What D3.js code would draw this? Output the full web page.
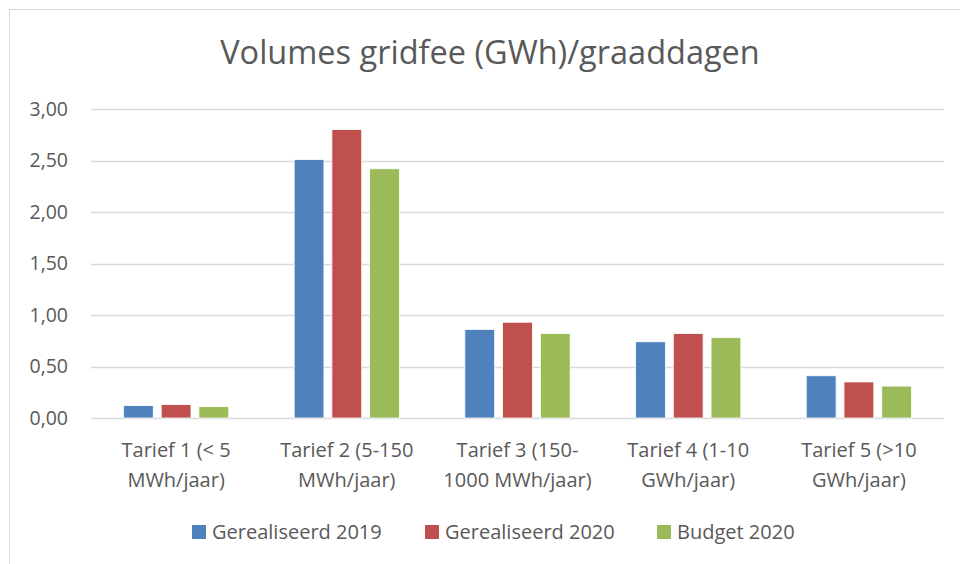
<!DOCTYPE html>
<html>
<head>
<meta charset="utf-8">
<script src="https://cdn.jsdelivr.net/npm/d3@7"></script>
<style>
  body { margin: 0; background: #fff; }
  text { font-family: "Open Sans", sans-serif; fill: #595959; }
</style>
</head>
<body>
<div id="chart"></div>
<script>
// chart data
const categories = [
  ["Tarief 1 (< 5", "MWh/jaar)"],
  ["Tarief 2 (5-150", "MWh/jaar)"],
  ["Tarief 3 (150-", "1000 MWh/jaar)"],
  ["Tarief 4 (1-10", "GWh/jaar)"],
  ["Tarief 5 (>10", "GWh/jaar)"]
];
const seriesNames = ["Gerealiseerd 2019", "Gerealiseerd 2020", "Budget 2020"];
const gerealiseerd2019 = [0.12, 2.51, 0.86, 0.74, 0.41];
const gerealiseerd2020 = [0.13, 2.80, 0.93, 0.82, 0.35];
const budget2020 = [0.11, 2.42, 0.82, 0.78, 0.31];
const yTicks = [0, 0.5, 1, 1.5, 2, 2.5, 3];

const colors = ["#4f81bd", "#c0504d", "#9bbb59"];
const seriesValues = [gerealiseerd2019, gerealiseerd2020, budget2020];

const width = 960, height = 564;
const margin = {top: 109, right: 16, bottom: 146, left: 91};

const svg = d3.select("#chart").append("svg")
    .attr("width", width).attr("height", height);

// chart frame
svg.append("rect")
    .attr("x", 9.5).attr("y", 9.5)
    .attr("width", width + 20).attr("height", height + 20)
    .style("fill", "none").style("stroke", "#d9d9d9");

svg.append("text")
    .attr("x", 490).attr("y", 64)
    .attr("text-anchor", "middle")
    .style("font-size", "32.5px")
    .text("Volumes gridfee (GWh)/graaddagen");

const x0 = d3.scaleBand()
    .domain(d3.range(categories.length))
    .range([margin.left, width - margin.right])
    .paddingInner(0.383).paddingOuter(0.19);

const x1 = d3.scaleBand()
    .domain(d3.range(seriesNames.length))
    .range([0, x0.bandwidth()])
    .paddingInner(0.21);

const y = d3.scaleLinear()
    .domain([0, 3])
    .range([height - margin.bottom, margin.top]);

// gridlines
svg.append("g")
  .selectAll("line")
  .data(yTicks)
  .enter().append("line")
    .attr("x1", margin.left).attr("x2", width - margin.right)
    .attr("y1", d => Math.round(y(d)) + 0.5)
    .attr("y2", d => Math.round(y(d)) + 0.5)
    .style("stroke", "#d9d9d9").style("stroke-width", 1.3);

const yAxis = svg.append("g")
    .attr("transform", "translate(" + margin.left + ",0)")
    .call(d3.axisLeft(y).tickValues(yTicks).tickSize(0).tickPadding(23)
      .tickFormat(d => d3.format(".2f")(d).replace(".", ",")));
yAxis.select(".domain").remove();
yAxis.selectAll("text").style("font-size", "19.5px").style("fill", "#595959")
    .style("font-family", "\"Open Sans\", sans-serif");

// bars
const groups = svg.append("g")
  .selectAll("g")
  .data(categories.map((c, i) => i))
  .enter().append("g")
    .attr("transform", i => "translate(" + x0(i) + ",0)");

groups.selectAll("rect")
    .data(i => seriesValues.map((s, j) => ({s: j, v: s[i]})))
    .enter().append("rect")
    .attr("x", d => x1(d.s))
    .attr("width", x1.bandwidth())
    .attr("y", d => y(d.v))
    .attr("height", d => y(0) - y(d.v))
    .style("fill", d => colors[d.s])
    .style("stroke", "#fff").style("stroke-width", 0.8);

// category labels
const catG = svg.append("g");
categories.forEach((lines, i) => {
  const t = catG.append("text")
      .attr("x", x0(i) + x0.bandwidth() / 2)
      .attr("y", 457)
      .attr("text-anchor", "middle")
      .style("font-size", "20px");
  lines.forEach((l, k) => {
    t.append("tspan")
      .attr("x", x0(i) + x0.bandwidth() / 2)
      .attr("dy", k === 0 ? 0 : 30)
      .text(l);
  });
});

// legend
const legendX = [192, 425, 657];
const legend = svg.append("g")
  .selectAll("g")
  .data(seriesNames)
  .enter().append("g")
    .attr("transform", (d, i) => "translate(" + legendX[i] + ",525)");
legend.append("rect")
    .attr("width", 14).attr("height", 14)
    .style("fill", (d, i) => colors[i]);
legend.append("text")
    .attr("x", 20).attr("y", 14)
    .style("font-size", "20px")
    .text(d => d);
</script>
</body>
</html>
